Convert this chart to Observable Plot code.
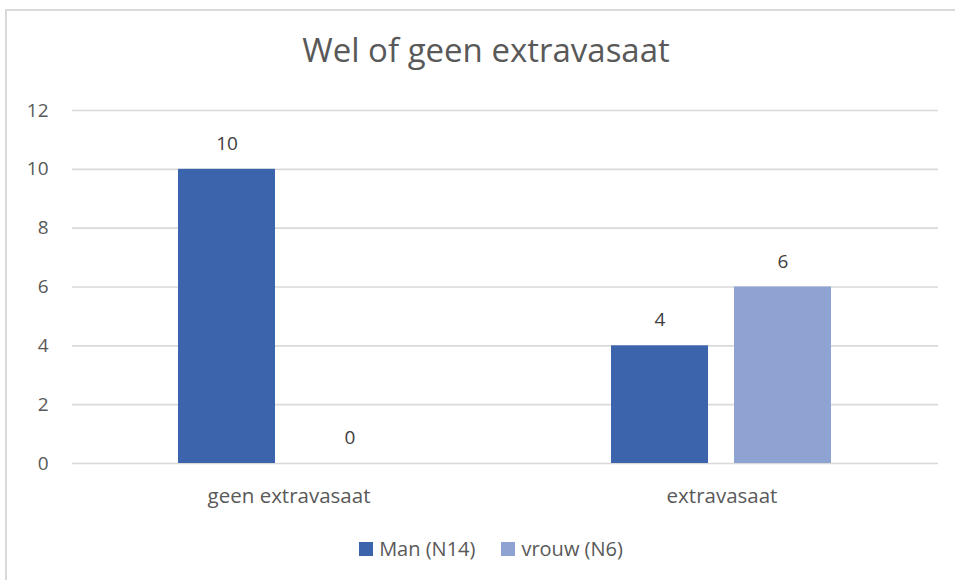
<!DOCTYPE html>
<html><head><meta charset="utf-8">
<script src="https://cdn.jsdelivr.net/npm/d3@7"></script>
<script src="https://cdn.jsdelivr.net/npm/@observablehq/plot@0.6"></script>
<style>
body{margin:0;background:#fff;font-family:"Open Sans",sans-serif;}
#wrap{position:relative;width:955px;height:580px;overflow:hidden;}
#frame{position:absolute;left:5px;top:9px;width:960px;height:590px;border:2px solid #d9d9d9;box-sizing:border-box;}
#title{position:absolute;left:0;top:27px;width:972px;text-align:center;font-size:33px;font-weight:400;color:#595959;font-family:"Open Sans",sans-serif;line-height:normal;}
#chart{position:absolute;left:0;top:90px;}
#legend{position:absolute;top:537px;left:0;width:982px;display:flex;justify-content:center;gap:26px;font-size:20px;line-height:24px;color:#595959;}
#legend span.item{display:flex;align-items:center;gap:6px;}
#legend i{display:inline-block;width:14px;height:14px;}
</style></head>
<body><div id="wrap"><div id="frame"></div><div id="title">Wel of geen extravasaat</div><div id="chart"></div><div id="legend"></div></div>
<script>
const categories = ["geen extravasaat", "extravasaat"];
const series = ["Man (N14)", "vrouw (N6)"];
const man = [10, 4];
const vrouw = [0, 6];
const yTicks = [0, 2, 4, 6, 8, 10, 12];
const colors = ["#3c64ac", "#8fa3d3"];

const data = [];
categories.forEach((c, i) => {
  data.push({cat: c, s: series[0], v: man[i]});
  data.push({cat: c, s: series[1], v: vrouw[i]});
});

const plot = Plot.plot({
  width: 955,
  height: 440,
  marginLeft: 71,
  marginRight: 17,
  marginTop: 20,
  marginBottom: 67,
  style: {fontFamily: "Open Sans, sans-serif", color: "#595959", background: "transparent"},
  fx: {domain: categories, padding: 0, axis: null},
  x: {domain: series, paddingInner: 0.21, paddingOuter: 0.853, axis: null},
  y: {domain: [0, 12], axis: null},
  color: {domain: series, range: colors},
  marks: [
    Plot.gridY(yTicks, {stroke: "#d9d9d9", strokeOpacity: 1, strokeWidth: 1.6}),
    Plot.axisY(yTicks, {tickSize: 0, tickPadding: 24, fontSize: 19, fill: "#595959", label: null}),
    Plot.barY(data, {fx: "cat", x: "s", y: "v", fill: "s"}),
    Plot.text(data, {fx: "cat", x: "s", y: "v", text: d => String(d.v), dy: -25.5, fontSize: 19, fill: "#404040"}),
    Plot.axisFx({anchor: "bottom", tickSize: 0, tickPadding: 25, fontSize: 20.5, fill: "#595959", label: null})
  ]
});
document.getElementById("chart").appendChild(plot);

const lg = document.getElementById("legend");
series.forEach((s, i) => {
  const it = document.createElement("span");
  it.className = "item";
  it.innerHTML = `<i style="background:${colors[i]}"></i>${s}`;
  lg.appendChild(it);
});
</script></body></html>
